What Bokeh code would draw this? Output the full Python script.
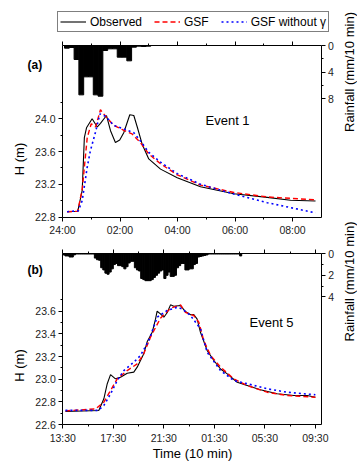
import math
from bokeh.plotting import figure
from bokeh.models import (Range1d, LinearAxis, FixedTicker, Label, Legend,
                          LegendItem, NumeralTickFormatter)
from bokeh.embed import file_html
from bokeh.resources import INLINE

FONT = "Liberation Sans"

# ---------------- Event 1 (panel a) : hours after 24:00 ----------------
obs_a_t = [0.16, 0.53, 0.685, 0.76, 0.835, 1.03, 1.21, 1.32, 1.53, 1.67, 1.84, 1.99,
           2.13, 2.34, 2.48, 2.60, 2.77, 3.0, 3.41, 3.99, 4.80, 5.96, 7.12, 7.93, 8.80]
obs_a_h = [22.865, 22.87, 23.125, 23.77, 23.89, 24.0, 23.90, 23.945, 24.04, 23.855, 23.71,
           23.74, 23.83, 24.05, 24.04, 23.90, 23.69, 23.51, 23.385, 23.28, 23.17, 23.085,
           23.04, 23.005, 22.995]
gsf_a_t = [0.16, 0.53, 0.69, 0.86, 1.0, 1.15, 1.32, 1.50, 1.78, 2.13, 2.42, 2.71, 3.0,
           3.41, 3.99, 4.80, 5.96, 7.12, 8.80]
gsf_a_h = [22.865, 22.87, 23.15, 23.77, 23.94, 23.90, 24.11, 24.03, 23.92, 23.86, 23.815,
           23.71, 23.57, 23.45, 23.315, 23.19, 23.10, 23.045, 23.01]
gsfng_a_t = [0.16, 0.55, 0.685, 0.86, 0.97, 1.15, 1.30, 1.5, 1.78, 2.13, 2.48, 2.71, 3.0,
             3.41, 3.99, 4.8, 5.96, 7.12, 7.93, 8.80]
gsfng_a_h = [22.865, 22.875, 23.0, 23.41, 23.61, 23.84, 24.06, 24.03, 23.92, 23.875, 23.83,
             23.73, 23.59, 23.47, 23.33, 23.2, 23.08, 22.975, 22.915, 22.85]
rain_a_start = 0.07          # hours after 24:00 of first 10-min interval
rain_a = [0.4, 0.3, 2.1, 7.4, 4.7, 4.7, 7.4, 7.6, 0.75, 0.5, 0.5, 1.75, 1.75, 2.3,
          0.25, 0.1, 0.15, 0.1]
time_ticks_a = [0, 2, 4, 6, 8]
time_labels_a = ["24:00", "02:00", "04:00", "06:00", "08:00"]
time_minor_a = [1, 3, 5, 7]
h_ticks_a = [22.8, 23.2, 23.6, 24.0]
h_minor_a = [23.0, 23.4, 23.8, 24.2]
rain_ticks_a = [0, 4, 8]
rain_minor_a = [2, 6]

# ---------------- Event 5 (panel b) : hours after 13:30 ----------------
obs_b_t = [0.21, 2.85, 3.25, 3.52, 3.78, 4.17, 4.57, 5.10, 5.62, 5.89, 6.15, 6.41, 6.68,
           7.08, 7.34, 7.47, 7.73, 8.0, 8.26, 8.53, 8.79, 9.32, 9.71, 10.11, 10.37, 10.64,
           10.9, 11.43, 11.96, 12.49, 13.02, 13.81, 14.60, 15.65, 16.97, 18.29, 19.35, 20.0]
obs_b_h = [22.715, 22.724, 22.827, 22.96, 23.04, 23.003, 23.017, 23.053, 23.062, 23.106,
           23.165, 23.224, 23.33, 23.414, 23.53, 23.60, 23.577, 23.547, 23.586, 23.656,
           23.644, 23.65, 23.597, 23.568, 23.57, 23.53, 23.414, 23.253, 23.165, 23.09,
           23.047, 22.973, 22.944, 22.906, 22.871, 22.856, 22.856, 22.841]
gsf_b_t = [0.21, 2.6, 3.25, 3.78, 4.31, 5.10, 5.89, 6.41, 6.94, 7.73, 8.53, 9.32, 9.71,
           10.37, 10.77, 11.16, 11.7, 12.49, 13.54, 14.6, 16.18, 17.76, 20.0]
gsf_b_h = [22.72, 22.738, 22.797, 22.9, 23.003, 23.076, 23.135, 23.224, 23.37, 23.538,
           23.626, 23.656, 23.59, 23.562, 23.503, 23.34, 23.21, 23.106, 23.003, 22.944,
           22.885, 22.856, 22.841]
gsfng_b_t = [0.21, 2.8, 3.25, 3.78, 4.31, 4.83, 5.62, 6.15, 6.81, 7.47, 8.26, 9.06, 9.45,
             10.11, 10.9, 11.43, 12.49, 13.54, 14.6, 16.18, 17.76, 20.0]
gsfng_b_h = [22.725, 22.725, 22.768, 22.87, 22.988, 23.076, 23.15, 23.209, 23.34, 23.547,
             23.606, 23.635, 23.62, 23.562, 23.445, 23.238, 23.076, 22.988, 22.96, 22.915,
             22.885, 22.862]
rain_b_start = 0.0
rain_b = [0.1, 0.2, 0.2, 0.3, 0.3, 0.1, 0, 0, 0, 0, 0, 0, 0, 0, 0,
          0.4, 0.55, 0.6, 1.3, 1.5, 1.8, 1.9, 1.7, 1.4, 1.0,
          0.9, 1.1, 1.1, 1.2, 1.4, 1.2, 0.85, 0.7, 0.7, 1.3,
          1.5, 1.6, 2.3, 2.4, 2.5, 2.5, 2.5, 2.4, 2.2, 2.0,
          1.8, 1.6, 1.5, 2.3, 2.0, 1.7, 2.1, 2.1, 2.0, 1.3,
          1.1, 0.9, 0.9, 1.5, 1.5, 1.4, 1.4, 1.0, 0.9, 0.3,
          0.25, 0.2, 0.15, 0.1,
          0, 0, 0, 0, 0, 0, 0, 0, 0, 0, 0, 0, 0, 0, 0, 0.2]
time_ticks_b = [0, 4, 8, 12, 16, 20]
time_labels_b = ["13:30", "17:30", "21:30", "01:30", "05:30", "09:30"]
time_minor_b = [2, 6, 10, 14, 18]
h_ticks_b = [22.6, 22.8, 23.0, 23.2, 23.4, 23.6]
h_minor_b = [22.7, 22.9, 23.1, 23.3, 23.5, 23.7]
rain_ticks_b = [0, 2, 4]
rain_minor_b = [1, 3]

STEP = 1.0 / 6.0  # 10 min in hours
W, H = 357, 462


def lin(p0, p1, v0, v1):
    k = (v1 - v0) / (p1 - p0)
    return lambda px: v0 + (px - p0) * k


def style_axis(ax):
    ax.axis_line_color = "black"
    ax.axis_line_width = 1
    ax.major_tick_in = 0
    ax.major_tick_out = 4
    ax.minor_tick_in = 0
    ax.minor_tick_out = 2
    ax.major_tick_line_color = "black"
    ax.minor_tick_line_color = "black"
    ax.major_label_text_font = FONT
    ax.major_label_text_font_size = "10.5px"
    ax.major_label_text_color = "#222222"
    ax.major_label_standoff = 3


p = figure(width=W, height=H, output_backend="svg", toolbar_location=None,
           x_range=Range1d(0, 1), y_range=Range1d(0, 1),
           x_axis_type=None, y_axis_type=None, min_border=0)
p.outline_line_color = None
p.background_fill_color = "white"
p.border_fill_color = "white"


def add_panel(key, box, xmax, hlo, hpx, rpx, ticks, obs, gsf, gsfng, rain, rain_start, texts):
    left, right, top, bottom = box
    fx = lin(left, right, 0.0, xmax)             # pixel -> hours
    fh = lin(bottom, bottom - hpx, hlo, hlo + 1)  # pixel -> H (m)
    fr = lin(top, top + rpx, 0.0, 1.0)           # pixel -> rainfall (mm)
    htop = fh(top)
    rbot = fr(bottom)
    xn, hn, rn = "t" + key, "h" + key, "r" + key
    p.extra_x_ranges[xn] = Range1d(fx(0), fx(W))
    p.extra_y_ranges[hn] = Range1d(fh(H), fh(0))
    p.extra_y_ranges[rn] = Range1d(fr(H), fr(0))

    (tt, tl, tm, ht, hm, rt, rm) = ticks

    xb = LinearAxis(x_range_name=xn, y_range_name=hn,
                    ticker=FixedTicker(ticks=tt, minor_ticks=tm), fixed_location=hlo,
                    bounds=(0, xmax), major_label_overrides={t: l for t, l in zip(tt, tl)})
    style_axis(xb)
    p.add_layout(xb, "below")

    xa = LinearAxis(x_range_name=xn, y_range_name=hn,
                    ticker=FixedTicker(ticks=tt, minor_ticks=tm), fixed_location=htop,
                    bounds=(0, xmax), major_label_overrides={t: "" for t in tt})
    style_axis(xa)
    xa.major_label_standoff = 0
    p.add_layout(xa, "above")

    yl = LinearAxis(x_range_name=xn, y_range_name=hn,
                    ticker=FixedTicker(ticks=ht, minor_ticks=hm), fixed_location=0,
                    bounds=(hlo, htop), formatter=NumeralTickFormatter(format="0.0"))
    style_axis(yl)
    p.add_layout(yl, "left")

    yr_ax = LinearAxis(x_range_name=xn, y_range_name=rn,
                       ticker=FixedTicker(ticks=rt, minor_ticks=rm),
                       fixed_location=xmax, bounds=(0, rbot))
    style_axis(yr_ax)
    p.add_layout(yr_ax, "right")

    rx = [rain_start + (i + 0.5) * STEP for i in range(len(rain))]
    p.vbar(x=rx, width=STEP, top=rain, bottom=0, x_range_name=xn, y_range_name=rn,
           fill_color="black", line_color="black", line_width=1.0)

    r1 = p.line(obs[0], obs[1], x_range_name=xn, y_range_name=hn,
                line_color="black", line_width=1.1)
    r2 = p.line(gsf[0], gsf[1], x_range_name=xn, y_range_name=hn,
                line_color="#ff0000", line_width=1.4, line_dash="5 3")
    r3 = p.line(gsfng[0], gsfng[1], x_range_name=xn, y_range_name=hn,
                line_color="#0000ff", line_width=1.6, line_dash="2 3")

    for (txt, px, py, size, bold, angle, align, base) in texts:
        p.add_layout(Label(x=fx(px), y=fh(py), x_range_name=xn, y_range_name=hn,
                           text=txt, text_font=FONT, text_font_size=size,
                           text_font_style="bold" if bold else "normal",
                           text_color="black", angle=angle, text_align=align,
                           text_baseline=base))
    return r1, r2, r3


V = math.pi / 2
texts_a = [("(a)", 27, 64, "12px", True, 0, "left", "alphabetic"),
           ("Event 1", 205, 119.5, "13px", False, 0, "left", "alphabetic"),
           ("H (m)", 19, 158.5, "13px", False, V, "center", "middle"),
           ("Rainfall (mm/10 min)", 349, 71.5, "13px", False, V, "center", "middle")]
texts_b = [("(b)", 27, 269, "12px", True, 0, "left", "alphabetic"),
           ("Event 5", 249, 321.5, "13px", False, 0, "left", "alphabetic"),
           ("H (m)", 19, 365, "13px", False, V, "center", "middle"),
           ("Rainfall (mm/10 min)", 349, 281, "13px", False, V, "center", "middle"),
           ("Time (10 min)", 192, 460, "13px", False, 0, "center", "bottom")]

r1, r2, r3 = add_panel("a", (62, 320.5, 45, 216.5), 8.99, 22.8, 81.83, 6.67,
                       (time_ticks_a, time_labels_a, time_minor_a, h_ticks_a, h_minor_a,
                        rain_ticks_a, rain_minor_a),
                       (obs_a_t, obs_a_h), (gsf_a_t, gsf_a_h), (gsfng_a_t, gsfng_a_h),
                       rain_a, rain_a_start, texts_a)

add_panel("b", (62.3, 320.7, 253.3, 424), 20.46, 22.6, 113.3, 10.75,
          (time_ticks_b, time_labels_b, time_minor_b, h_ticks_b, h_minor_b,
           rain_ticks_b, rain_minor_b),
          (obs_b_t, obs_b_h), (gsf_b_t, gsf_b_h), (gsfng_b_t, gsfng_b_h),
          rain_b, rain_b_start, texts_b)

leg = Legend(items=[LegendItem(label="Observed", renderers=[r1]),
                    LegendItem(label="GSF", renderers=[r2]),
                    LegendItem(label="GSF without \u03b3", renderers=[r3])],
             location=(57, H - 32), orientation="horizontal",
             glyph_width=26, glyph_height=15, label_height=15,
             label_standoff=4, spacing=12, padding=2, margin=0,
             label_text_font=FONT, label_text_font_size="12px",
             label_text_color="black", border_line_color="black",
             border_line_width=1, background_fill_color="white",
             background_fill_alpha=1)
p.add_layout(leg)

open("out.html", "w").write(file_html(p, INLINE))
